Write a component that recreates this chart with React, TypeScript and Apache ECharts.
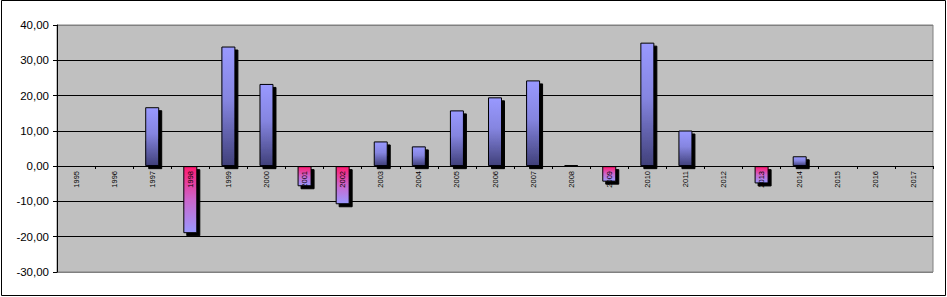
import React, { useEffect, useRef } from "react";
import * as echarts from "echarts";

const years = [
  "1995", "1996", "1997", "1998", "1999", "2000", "2001", "2002", "2003", "2004", "2005", "2006",
  "2007", "2008", "2009", "2010", "2011", "2012", "2013", "2014", "2015", "2016", "2017",
];
const values: (number | null)[] = [
  null, null, 16.7, -19.0, 33.9, 23.3, -5.7, -10.8, 7.0, 5.6, 15.8, 19.5,
  24.3, 0.3, -4.4, 35.0, 10.1, null, -4.9, 2.8, null, null, null,
];
const yTicks = [-30, -20, -10, 0, 10, 20, 30, 40];

export default function App() {
  const ref = useRef<HTMLDivElement>(null);
  useEffect(() => {
    if (!ref.current) return;
    const chart = echarts.init(ref.current, null, { renderer: "svg" });
    const posGrad = new echarts.graphic.LinearGradient(0, 0, 0, 1, [
      { offset: 0, color: "#9999ff" },
      { offset: 0.45, color: "#8585e0" },
      { offset: 1, color: "#40407a" },
    ]);
    const negGrad = new echarts.graphic.LinearGradient(0, 0, 0, 1, [
      { offset: 0, color: "#ff1a70" },
      { offset: 0.5, color: "#cc66cc" },
      { offset: 1, color: "#9999ff" },
    ]);
    const data = values.map((v) =>
      v == null
        ? null
        : {
            value: v,
            itemStyle: { color: v >= 0 ? posGrad : negGrad },
          }
    );
    const splitColors = yTicks.map((t, i) =>
      i === 0 || i === yTicks.length - 1 ? "#808080" : "#000000"
    );
    const plotTop = 25;
    const plotBottom = 25;
    const plotH = 297 - plotTop - plotBottom;
    const zeroOffset = Math.round((plotH * (0 - yTicks[0])) / (yTicks[yTicks.length - 1] - yTicks[0]));
    chart.setOption({
      animation: false,
      backgroundColor: "#ffffff",
      graphic: [
        {
          type: "rect",
          shape: { x: 1.5, y: 0.5, width: 944, height: 295 },
          style: { fill: "none", stroke: "#000", lineWidth: 1 },
          silent: true,
        },
      ],
      grid: {
        left: 57,
        right: 14,
        top: plotTop,
        bottom: plotBottom,
        show: true,
        backgroundColor: "#c0c0c0",
        borderColor: "#808080",
        borderWidth: 1,
      },
      xAxis: {
        type: "category",
        data: years,
        z: 5,
        offset: -zeroOffset,
        axisLine: { onZero: false, lineStyle: { color: "#000", width: 1 } },
        axisTick: { show: true, length: 3, lineStyle: { color: "#000" } },
        axisLabel: {
          rotate: 90,
          interval: 0,
          fontSize: 7.5,
          margin: 5,
          color: "#000",
          fontFamily: "Arial, 'Liberation Sans', sans-serif",
        },
        splitLine: { show: false },
      },
      yAxis: {
        type: "value",
        min: -30,
        max: 40,
        interval: 10,
        axisLine: { show: true, lineStyle: { color: "#000", width: 1 } },
        axisTick: { show: true, length: 4, lineStyle: { color: "#000" } },
        axisLabel: {
          fontSize: 11.5,
          margin: 8,
          color: "#000",
          fontFamily: "Arial, 'Liberation Sans', sans-serif",
          formatter: (v: number) => v.toFixed(2).replace(".", ","),
        },
        splitLine: { show: true, lineStyle: { color: splitColors, width: 1 } },
      },
      series: [
        {
          type: "bar",
          data,
          barWidth: 14,
          itemStyle: {
            borderColor: "#000",
            borderWidth: 1,
            shadowColor: "#000",
            shadowBlur: 0,
            shadowOffsetX: 3,
            shadowOffsetY: 3,
          },
        },
      ],
    });
    return () => chart.dispose();
  }, []);
  return (
    <div
      ref={ref}
      style={{ position: "absolute", left: 0, top: 0, width: 947, height: 297 }}
    />
  );
}
